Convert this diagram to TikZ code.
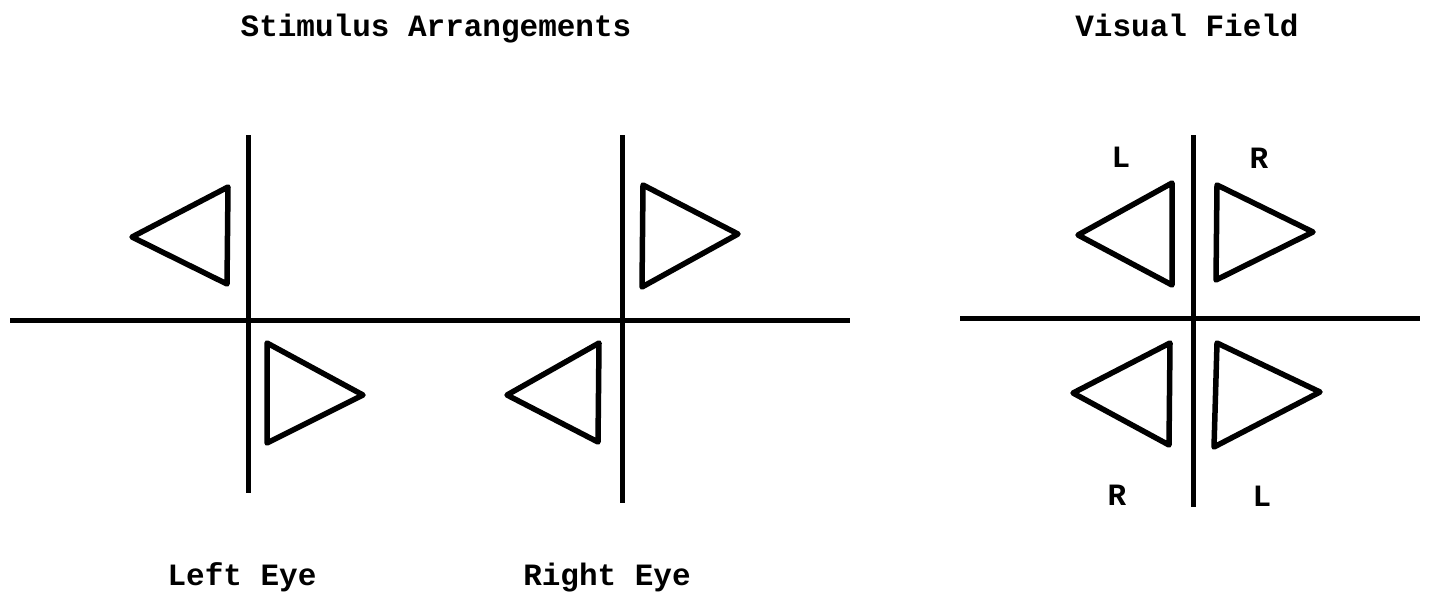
\documentclass[tikz,border=0pt]{standalone}
\usepackage{fontspec}
\setmonofont{Liberation Mono}

\begin{document}
\begin{tikzpicture}[x=1pt,y=-1pt,
        axis/.style={line width=5pt},
        flag/.style={line width=5.5pt, line join=round},
        lbl/.style={font=\ttfamily\bfseries\fontsize{31}{36}\selectfont, inner sep=0pt, text height=18pt, text depth=0pt}]

        \useasboundingbox (0,0) rectangle (1432,600);

        %% titles
        \node[lbl] (stimtitle) at (436,27) {Stimulus Arrangements};
        \node[lbl] (fieldtitle) at (1187,27) {Visual Field};

        %% left eye
        \draw[axis] (248,135) -- (248,493);
        \draw[axis] (10,320) -- (850,320);
        \draw[flag] (132,237) -- (228,187) -- (227,284) -- cycle;
        \draw[flag] (267,343) -- (363,395) -- (267,443) -- cycle;
        \node[lbl] (lefteye) at (242,576) {Left Eye};

        %% right eye
        \draw[axis] (622,135) -- (622,503);
        \draw[flag] (643,185) -- (738,234) -- (642,287) -- cycle;
        \draw[flag] (507,395) -- (599,343) -- (598,442) -- cycle;
        \node[lbl] (righteye) at (607,576) {Right Eye};

        %% visual field
        \draw[axis] (1193,135) -- (1193,507);
        \draw[axis] (960,318) -- (1420,318);
        \draw[flag] (1078,235) -- (1172,183) -- (1172,285) -- cycle;
        \draw[flag] (1217,185) -- (1313,232) -- (1216,280) -- cycle;
        \draw[flag] (1073,393) -- (1170,343) -- (1169,445) -- cycle;
        \draw[flag] (1217,343) -- (1320,392) -- (1214,447) -- cycle;

        \node[lbl] (ltop) at (1121,158) {L};
        \node[lbl] (rtop) at (1259,159) {R};
        \node[lbl] (rbot) at (1117,496) {R};
        \node[lbl] (lbot) at (1262,497) {L};

\end{tikzpicture}
\end{document}
